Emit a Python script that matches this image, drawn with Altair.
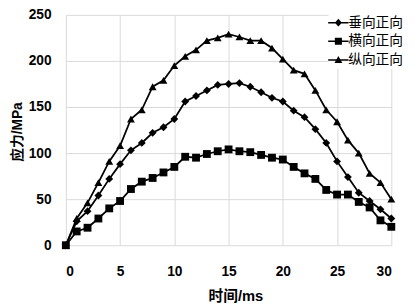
import altair as alt
import pandas as pd

# time axis (ms)
t_ms = list(range(31))

# series values (MPa)
s_vertical = [0, 26, 37, 54, 72, 88, 103, 111, 122, 128, 137, 156, 162, 168, 174, 175,
              176, 172, 166, 160, 156, 146, 139, 126, 111, 91, 74, 57, 48, 39, 29]
s_lateral = [0, 15, 19, 29, 40, 48, 61, 69, 73, 79, 85, 96, 95, 99, 102, 104,
             102, 101, 98, 95, 93, 85, 78, 72, 60, 55, 55, 47, 41, 27, 20]
s_longitudinal = [0, 29, 46, 68, 91, 108, 137, 147, 172, 179, 195, 205, 212, 222, 225, 229,
                  226, 222, 222, 214, 202, 190, 186, 168, 147, 134, 114, 100, 78, 68, 50]

series_names = ["垂向正向", "横向正向", "纵向正向"]
x_ticks = [0, 5, 10, 15, 20, 25, 30]
y_ticks = [0, 50, 100, 150, 200, 250]

rows = []
for name, vals in zip(series_names, [s_vertical, s_lateral, s_longitudinal]):
    for ti, v in zip(t_ms, vals):
        rows.append({"t": ti, "v": v, "series": name})
df = pd.DataFrame(rows)

axis_font = "Liberation Sans, Arial, sans-serif"
title_font = "Liberation Sans, Noto Sans CJK SC, sans-serif"

x_enc = alt.X(
    "t:Q",
    scale=alt.Scale(domain=[0, 30], nice=False, zero=False),
    axis=alt.Axis(
        values=x_ticks, title="时间/ms", grid=True, ticks=False, domain=False,
        labelPadding=20, labelFont=axis_font, labelFontSize=14, labelFontWeight="bold",
        labelColor="black", titleFont=title_font, titleFontSize=15, titleFontWeight="bold",
        titleColor="black", titleY=51, titleBaseline="middle", titleX=173,
        gridColor="#d9d9d9", gridWidth=1,
    ),
)
y_enc = alt.Y(
    "v:Q",
    scale=alt.Scale(domain=[0, 250], nice=False),
    axis=alt.Axis(
        values=y_ticks, title="应力/MPa", grid=True, ticks=False, domain=False,
        labelPadding=15, labelFont=axis_font, labelFontSize=14, labelFontWeight="bold",
        labelColor="black", titleFont=title_font, titleFontSize=14, titleFontWeight="bold",
        titleColor="black", titleX=-49, titleY=119, titleBaseline="middle",
        titleAlign="center", titleAngle=270,
        gridColor="#d9d9d9", gridWidth=1,
    ),
)

lines = alt.Chart(df).mark_line(color="black", strokeWidth=1.8).encode(
    x=x_enc, y=y_enc, detail="series:N"
)

points = alt.Chart(df).mark_point(filled=True, color="black", opacity=1, size=64).encode(
    x=x_enc,
    y=y_enc,
    shape=alt.Shape(
        "series:N",
        scale=alt.Scale(domain=series_names, range=["diamond", "square", "triangle-up"]),
        legend=None,
    ),
)

# legend glyphs: a short filled bar (the line) plus the marker
bar = "M-1.3,-0.1L1.3,-0.1L1.3,0.1L-1.3,0.1Z"
legend_paths = [
    bar + "M-0.45,0L0,-0.5L0.45,0L0,0.5Z",
    bar + "M-0.45,-0.45L0.45,-0.45L0.45,0.45L-0.45,0.45Z",
    bar + "M-0.5,0.4L0,-0.5L0.5,0.4Z",
]

legend_layer = alt.Chart(df).transform_calculate(lg="datum.series").mark_point(
    filled=True, color="black", opacity=0
).encode(
    x=x_enc,
    y=y_enc,
    shape=alt.Shape(
        "lg:N",
        scale=alt.Scale(domain=series_names, range=legend_paths),
        legend=alt.Legend(
            title=None, orient="none", legendX=268, legendY=-2, padding=2,
            fillColor="white", symbolSize=256, symbolOpacity=1,
            symbolFillColor="black", symbolStrokeColor="black", symbolStrokeWidth=0,
            labelFont="Noto Sans CJK SC", labelFontSize=14, labelColor="black",
            labelOffset=2, rowPadding=4,
        ),
    ),
)

chart = (
    alt.layer(lines, points, legend_layer)
    .resolve_scale(shape="independent")
    .resolve_legend(shape="independent")
    .properties(
        width=332, height=235,
        autosize=alt.AutoSizeParams(type="none"),
        padding={"left": 59, "top": 4, "right": 16, "bottom": 60},
        background="white",
    )
    .configure_view(strokeWidth=0)
)

chart.save("out.html", embed_options={"renderer": "svg", "actions": False})
